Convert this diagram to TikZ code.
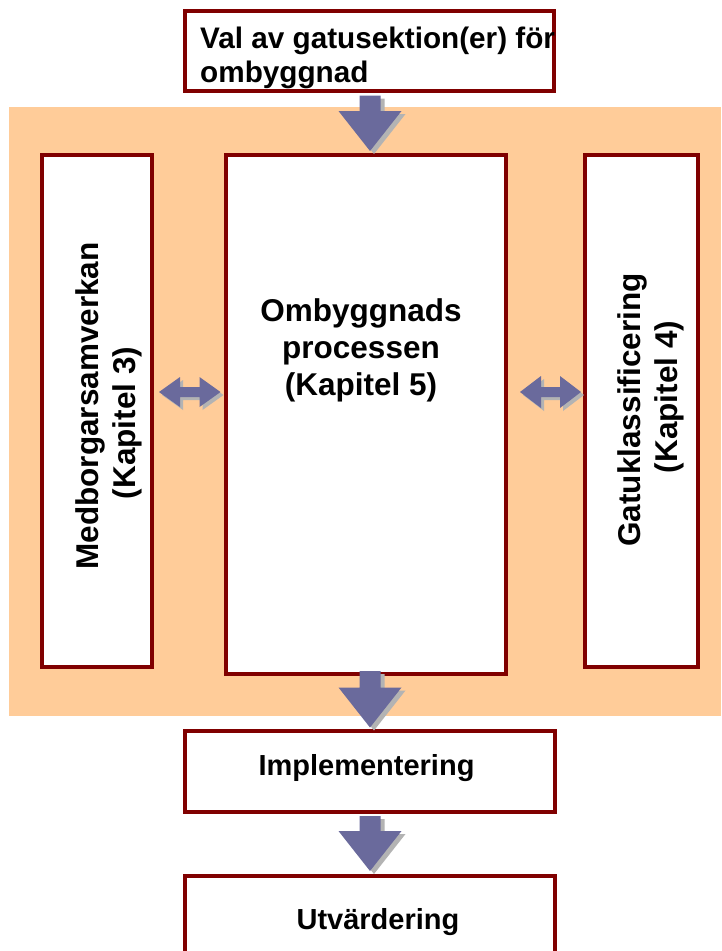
\documentclass[tikz,border=0pt]{standalone}
\usepackage{fontspec}
\setmainfont{Liberation Sans}
\usetikzlibrary{calc}
\definecolor{borderc}{HTML}{800000}
\definecolor{peach}{HTML}{FFCC99}
\definecolor{arrowc}{HTML}{6A6A9C}
\definecolor{shadowc}{HTML}{B3B3B3}
\tikzset{
  box/.style={draw=borderc, line width=4pt, fill=white, inner sep=0pt, rectangle},
  txt/.style={inner sep=0pt, font=\bfseries\fontsize{29}{34}\selectfont, text=black},
  toptxtstyle/.style={inner sep=0pt, font=\bfseries\fontsize{29.7}{34}\selectfont, text=black},
  bigtxt/.style={inner sep=0pt, font=\bfseries\fontsize{31.5}{37}\selectfont, text=black, align=center},
}
% block arrow pointing down: #1 start point (shaft top, same x as tip), #2 tip, #3 dx, #4 dy, #5 colour
\newcommand\bdown[5]{%
  \fill[#5] ($(#1)+(#3-10.5,#4)$) --
  ($(#2)+(#3-10.5,#4-40)$) -- ($(#2)+(#3-31.5,#4-40)$) --
  ($(#2)+(#3,#4)$) --
  ($(#2)+(#3+31.5,#4-40)$) -- ($(#2)+(#3+10.5,#4-40)$) --
  ($(#1)+(#3+10.5,#4)$) -- cycle;}
% horizontal double block arrow between #1 (left tip) and #2 (right tip); #3 dx, #4 dy; #5 head half height; #6 colour
\newcommand\bhoriz[6]{%
  \fill[#6] ($(#1)+(#3,#4)$) -- ($(#1)+(#3+21,#4-#5)$) -- ($(#1)+(#3+21,#4-5)$) --
  ($(#2)+(#3-21,#4-5)$) -- ($(#2)+(#3-21,#4-#5)$) -- ($(#2)+(#3,#4)$) --
  ($(#2)+(#3-21,#4+#5)$) -- ($(#2)+(#3-21,#4+5)$) --
  ($(#1)+(#3+21,#4+5)$) -- ($(#1)+(#3+21,#4+#5)$) -- cycle;}
\begin{document}
\begin{tikzpicture}[x=1pt,y=-1pt]
\useasboundingbox (0,0) rectangle (721,951);
\fill[white] (0,0) rectangle (721,951);
% background panel
\fill[peach] (9,107) rectangle (721,716);
% boxes
\node[box, minimum width=369pt, minimum height=80pt] (top) at (369.5,51) {};
\node[box, minimum width=110.5pt, minimum height=512.5pt] (left) at (96.75,410.75) {};
\node[box, minimum width=280.5pt, minimum height=519.5pt] (mid) at (365.75,414.25) {};
\node[box, minimum width=113.5pt, minimum height=512.5pt] (right) at (641.25,410.75) {};
\node[box, minimum width=370pt, minimum height=81pt] (impl) at (369.5,771.5) {};
\node[box, minimum width=370pt, minimum height=84pt] (utv) at (369.5,918) {};
% texts
\node[toptxtstyle, anchor=west, align=left] (toptxt) at (200,57.5) {Val av gatusektion(er) för\\ombyggnad};
\node[bigtxt] (midtxt) at (361,350) {Ombyggnads\\processen\\(Kapitel 5)};
\node[bigtxt, rotate=90] (lefttxt) at (109,406) {Medborgarsamverkan\\(Kapitel 3)\hspace*{34pt}};
\node[bigtxt, rotate=90] (righttxt) at (651,410) {Gatuklassificering\\\hspace*{26pt}(Kapitel 4)};
\node[txt, anchor=base] (impltxt) at (366.5,775) {Implementering};
\node[txt, anchor=base] (utvtxt) at (378,929) {Utvärdering};
% arrow anchor points
\coordinate (s1) at ($(top.south)+(0.5,2.5)$);
\coordinate (t1) at ($(mid.north)+(4.25,-1.5)$);
\coordinate (s2) at ($(mid.south)+(4.25,-5)$);
\coordinate (t2) at ($(impl.north)+(0.5,-1.5)$);
\coordinate (s3) at ($(impl.south)+(0.5,2)$);
\coordinate (t3) at ($(utv.north)+(0.5,-3)$);
\coordinate (l1) at ($(left.east)+(5,-18.75)$);
\coordinate (l2) at ($(mid.west)+(-3,-22.25)$);
\coordinate (r1) at ($(mid.east)+(12,-22.25)$);
\coordinate (r2) at ($(right.west)+(-1.5,-18.75)$);
% down arrows
\bdown{s1}{t1}{4}{3}{shadowc}
\bdown{s1}{t1}{0}{0}{arrowc}
\bdown{s2}{t2}{4}{3}{shadowc}
\bdown{s2}{t2}{0}{0}{arrowc}
\bdown{s3}{t3}{4}{3}{shadowc}
\bdown{s3}{t3}{0}{0}{arrowc}
% double arrows
\bhoriz{l1}{l2}{3}{3}{15}{shadowc}
\bhoriz{l1}{l2}{0}{0}{15}{arrowc}
\bhoriz{r1}{r2}{3}{3}{16}{shadowc}
\bhoriz{r1}{r2}{0}{0}{16}{arrowc}
\end{tikzpicture}
\end{document}
